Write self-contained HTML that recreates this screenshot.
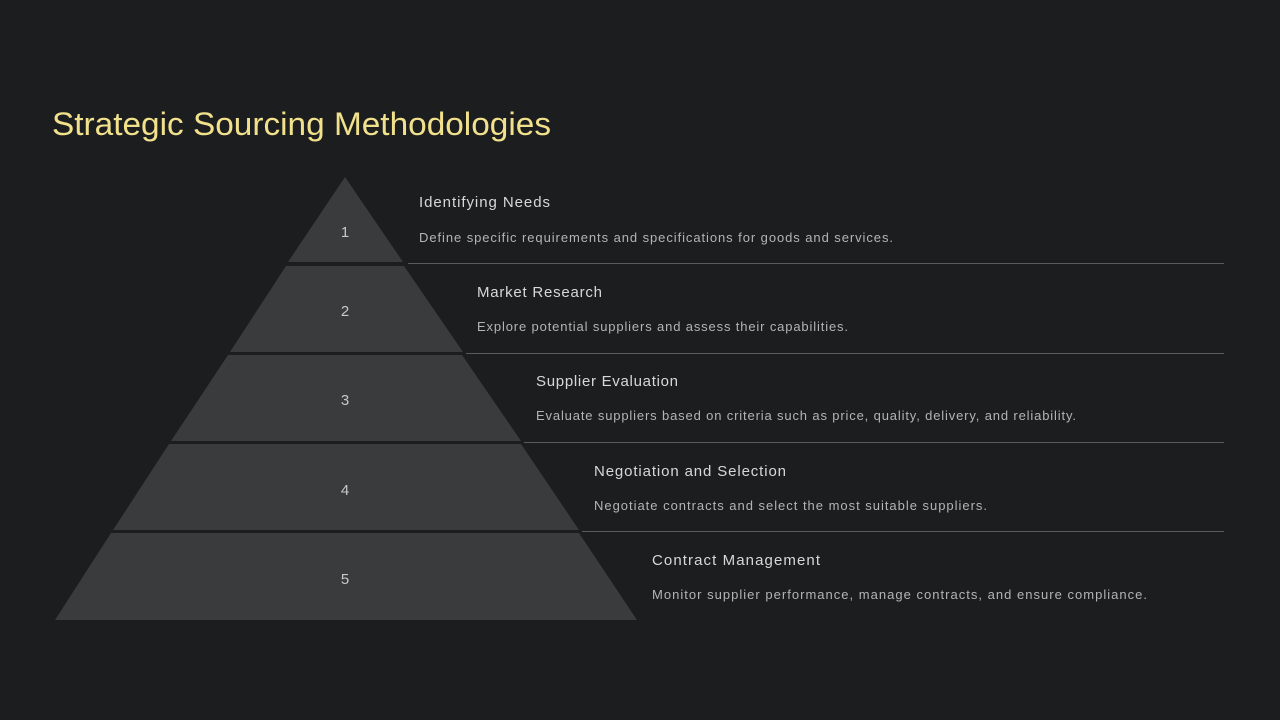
<!DOCTYPE html>
<html><head><meta charset="utf-8"><style>
html,body{margin:0;padding:0;background:#1c1d1f;}
body{width:1280px;height:720px;overflow:hidden;position:relative;font-family:"Liberation Sans",sans-serif;}
svg{position:absolute;left:0;top:0;}
</style></head><body>
<svg width="1280" height="720" viewBox="0 0 1280 720">
<rect width="1280" height="720" fill="#1c1d1f"/>
<text x="52" y="135" font-family="Liberation Sans, sans-serif" font-size="32" fill="#f1e18c" textLength="499" lengthAdjust="spacingAndGlyphs">Strategic Sourcing Methodologies</text>
<g fill="#3a3b3d">
<polygon points="345,177 403,262 288,262"/>
<polygon points="286,266 404,266 463,352 230,352"/>
<polygon points="228,355 462,355 521,441 171,441"/>
<polygon points="169,444 521,444 579,530 113,530"/>
<polygon points="111,533 579,533 637,620 55,620"/>
</g>
<g fill="#c8c8c8" font-size="15" text-anchor="middle" font-family="Liberation Sans, sans-serif">
<text x="345" y="237">1</text>
<text x="345" y="316">2</text>
<text x="345" y="405">3</text>
<text x="345" y="495">4</text>
<text x="345" y="584">5</text>
</g>
<g stroke="#5a5b5d" stroke-width="1">
<line x1="408" y1="263.5" x2="1224" y2="263.5"/>
<line x1="466" y1="353.5" x2="1224" y2="353.5"/>
<line x1="524" y1="442.5" x2="1224" y2="442.5"/>
<line x1="582" y1="531.5" x2="1224" y2="531.5"/>
</g>
<g font-family="Liberation Sans, sans-serif" lengthAdjust="spacingAndGlyphs">
<g fill="#d8d8d8" font-size="15">
<text x="419" y="207" textLength="131">Identifying Needs</text>
<text x="477" y="297" textLength="125">Market Research</text>
<text x="536" y="386" textLength="142">Supplier Evaluation</text>
<text x="594" y="476" textLength="192">Negotiation and Selection</text>
<text x="652" y="565" textLength="168">Contract Management</text>
</g>
<g fill="#b4b4b4" font-size="13">
<text x="419" y="242" textLength="474">Define specific requirements and specifications for goods and services.</text>
<text x="477" y="331" textLength="371">Explore potential suppliers and assess their capabilities.</text>
<text x="536" y="420" textLength="540">Evaluate suppliers based on criteria such as price, quality, delivery, and reliability.</text>
<text x="594" y="510" textLength="393">Negotiate contracts and select the most suitable suppliers.</text>
<text x="652" y="599" textLength="495">Monitor supplier performance, manage contracts, and ensure compliance.</text>
</g>
</g>
</svg>
</body></html>
